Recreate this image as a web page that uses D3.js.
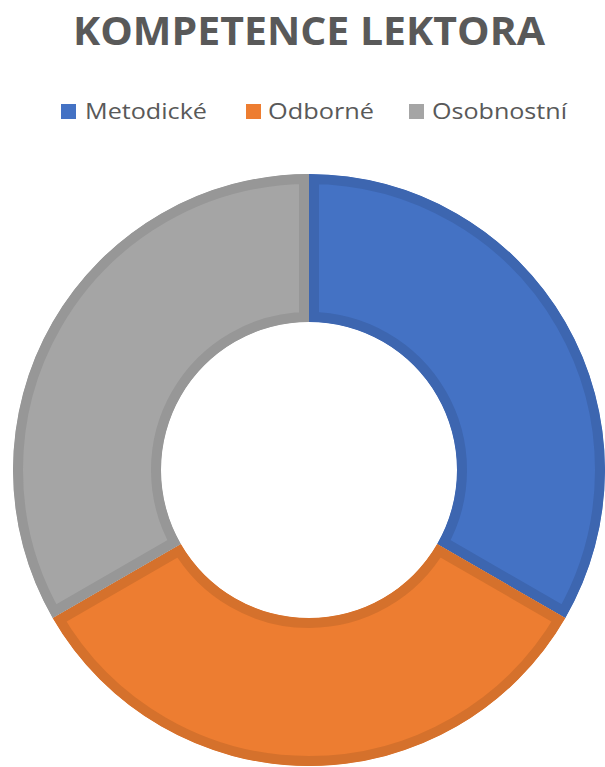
<!DOCTYPE html>
<html>
<head>
<meta charset="utf-8">
<script src="https://cdn.jsdelivr.net/npm/d3@7"></script>
<style>
html,body{margin:0;padding:0;background:#fff;}
svg{display:block;}
</style>
</head>
<body>
<svg id="chart" width="605" height="767"></svg>
<script>
const title = "KOMPETENCE LEKTORA";
const categories = ["Metodické", "Odborné", "Osobnostní"];
const values = [1, 1, 1];
const fillColors = ["#4472C4", "#ED7D31", "#A5A5A5"];
const borderColors = ["#3D66B0", "#D5712C", "#979797"];

const svg = d3.select("#chart");
const font = "'Open Sans', 'Noto Sans', sans-serif";

// Title
const t = svg.append("text")
  .attr("x", 309).attr("y", 45)
  .attr("text-anchor", "middle")
  .attr("font-family", font)
  .attr("font-weight", "bold")
  .attr("font-size", 39)
  .attr("fill", "#595959")
  .text(title);
t.attr("textLength", 472).attr("lengthAdjust", "spacingAndGlyphs");

// Legend
const legendSquareX = [61, 246, 409];
const legendTextX = [85, 268, 432];
const legendTextW = [122, 106, 135];
const lg = svg.append("g");
categories.forEach((c, i) => {
  lg.append("rect")
    .attr("x", legendSquareX[i]).attr("y", 104)
    .attr("width", 15).attr("height", 15)
    .attr("fill", fillColors[i]);
  lg.append("text")
    .attr("x", legendTextX[i]).attr("y", 119)
    .attr("font-family", font)
    .attr("font-size", 22.5)
    .attr("fill", "#595959")
    .attr("textLength", legendTextW[i])
    .attr("lengthAdjust", "spacingAndGlyphs")
    .text(c);
});

// Donut
const cx = 309, cy = 470, R = 296, r = 148;
const pie = d3.pie().sort(null).value(d => d)(values);
const arc = d3.arc().innerRadius(r).outerRadius(R);
const g = svg.append("g").attr("transform", `translate(${cx},${cy})`);
const defs = svg.append("defs");
pie.forEach((p, i) => {
  const id = "clip" + i;
  defs.append("clipPath").attr("id", id)
    .append("path").attr("d", arc(p)).attr("transform", `translate(${cx},${cy})`);
});
const slices = svg.append("g");
pie.forEach((p, i) => {
  slices.append("g").attr("clip-path", `url(#clip${i})`)
    .append("path")
    .attr("transform", `translate(${cx},${cy})`)
    .attr("d", arc(p))
    .attr("fill", fillColors[i])
    .attr("stroke", borderColors[i])
    .attr("stroke-width", 20)
    .attr("stroke-linejoin", "miter");
});
</script>
</body>
</html>
